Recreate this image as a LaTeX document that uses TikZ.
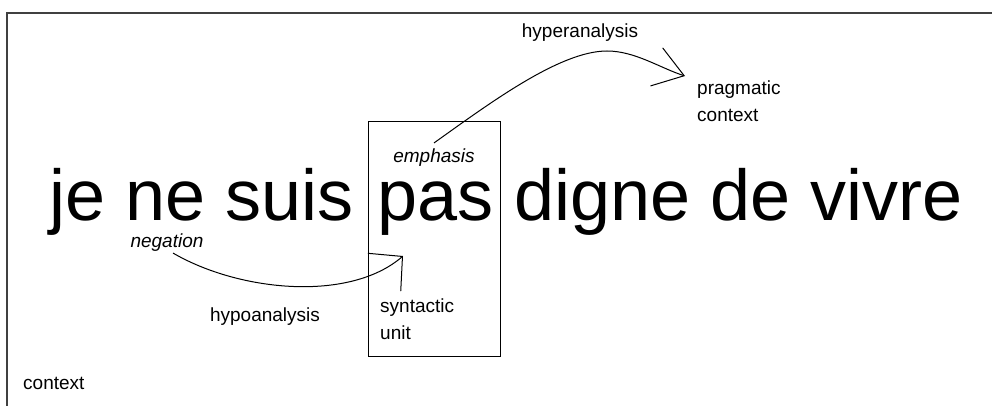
\documentclass[tikz,border=0pt]{standalone}
\usepackage{fontspec}
\setmainfont{Liberation Sans}
\usetikzlibrary{arrows.meta}
\begin{document}
\begin{tikzpicture}[x=1pt,y=-1pt,
  lbl/.style={inner sep=0pt,font=\fontsize{19}{27}\selectfont},
  ilbl/.style={lbl,font=\fontsize{19}{27}\selectfont\itshape},
  big/.style={inner sep=0pt,font=\fontsize{72}{80}\selectfont,text height=38pt,text depth=0pt},
  conn/.style={line width=1pt,black},
  frame/.style={line width=2pt,black!75}]
\useasboundingbox (0,0) rectangle (992,406);
% frame (top and left only)
\draw[frame] (6.5,406) -- (6.5,13.5) -- (992,13.5);
% sentence
\node[big,anchor=base west] (w1) at (49.5,220) {je ne suis};
\node[big,anchor=base west] (w2) at (377,220) {pas};
\node[big,anchor=base east] (w3) at (963,220) {digne de vivre};
% box around "pas"
\node[draw,line width=1pt,minimum width=132pt,minimum height=234pt,inner sep=0pt] (box) at (434,239) {};
% labels
\node[lbl] (hyper) at (580,33) {hyperanalysis};
\node[lbl,anchor=west,align=left] (prag) at (697,101.5) {pragmatic\\context};
\node[ilbl] (emph) at (434,158) {emphasis};
\node[ilbl] (neg) at (167,243) {negation};
\node[lbl] (hypo) at (265,317) {hypoanalysis};
\node[lbl,anchor=west,align=left] (syn) at (380,319) {syntactic\\unit};
\node[lbl,anchor=west] (ctx) at (23,383) {context};
% arrow end points
\coordinate (hyperEnd) at (685,76);
\coordinate (hypoEnd) at (403,256);
% connectors
\draw[conn,-{Straight Barb[length=29pt,width=40pt]}]
  ([yshift=6pt]emph.north) .. controls (490,103) and (560,51) .. (607,51)
  .. controls (635,51) and (660,68) .. (hyperEnd);
\draw[conn,-{Straight Barb[length=24pt,width=50pt]}]
  ([xshift=6pt,yshift=-1pt]neg.south) .. controls (240,292) and (350,302) .. (hypoEnd);
\end{tikzpicture}
\end{document}
